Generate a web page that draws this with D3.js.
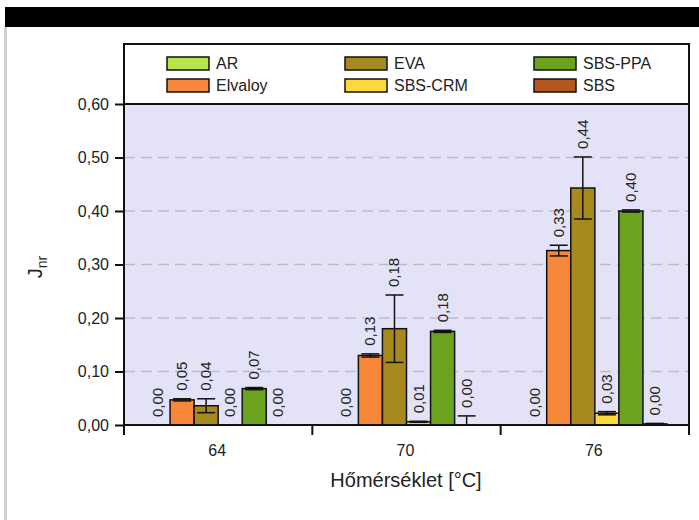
<!DOCTYPE html>
<html>
<head>
<meta charset="utf-8">
<script src="https://cdn.jsdelivr.net/npm/d3@7"></script>
<style>
  body { margin: 0; background: #fff; }
  svg { display: block; font-family: "Liberation Sans", Arial, sans-serif; }
</style>
</head>
<body>
<script>
// temperatures on the x axis
var temps = ["64", "70", "76"]
// binders, in the order the bars are drawn
var binders = ["AR", "Elvaloy", "EVA", "SBS-CRM", "SBS-PPA", "SBS"]
var colors = ["#b9e44a", "#f7883a", "#a8891d", "#fcd83c", "#6ba31f", "#b4561d"]

// Jnr values per binder, one value per temperature
var valAR      = [0.000, 0.000, 0.000]
var valElvaloy = [0.047, 0.130, 0.326]
var valEVA     = [0.036, 0.180, 0.443]
var valCRM     = [0.000, 0.006, 0.022]
var valPPA     = [0.068, 0.175, 0.400]
var valSBS     = [0.000, 0.000, 0.002]

// standard deviations (error bars)
var errAR      = [0, 0, 0]
var errElvaloy = [0.002, 0.003, 0.010]
var errEVA     = [0.013, 0.063, 0.058]
var errCRM     = [0, 0.001, 0.003]
var errPPA     = [0.002, 0.002, 0.002]
var errSBS     = [0, 0.017, 0.001]

// printed labels above the bars
var lblAR      = ["0,00", "0,00", "0,00"]
var lblElvaloy = ["0,05", "0,13", "0,33"]
var lblEVA     = ["0,04", "0,18", "0,44"]
var lblCRM     = ["0,00", "0,01", "0,03"]
var lblPPA     = ["0,07", "0,18", "0,40"]
var lblSBS     = ["0,00", "0,00", "0,00"]

var yTicks = [0, 0.1, 0.2, 0.3, 0.4, 0.5, 0.6]

var values = [valAR, valElvaloy, valEVA, valCRM, valPPA, valSBS]
var errors = [errAR, errElvaloy, errEVA, errCRM, errPPA, errSBS]
var labels = [lblAR, lblElvaloy, lblEVA, lblCRM, lblPPA, lblSBS]

var w = 699
var h = 520
var plot = {left: 124, right: 689, top: 104, bottom: 425, legendTop: 44}

// flatten into one row per bar
var bars = []
temps.forEach(function(t, ti) {
  binders.forEach(function(b, bi) {
    bars.push({temp: t, binder: b, color: colors[bi],
               value: values[bi][ti], err: errors[bi][ti], label: labels[bi][ti]})
  })
})

var svg = d3.select("body").append("svg")
            .attr("width", w)
            .attr("height", h)

// page decoration: black band and grey left edge
svg.append("rect").attr("x", 5).attr("y", 7).attr("width", w - 5).attr("height", 20).attr("fill", "#000")
svg.append("rect").attr("x", 4).attr("y", 27).attr("width", 3).attr("height", h - 27).attr("fill", "#cfcfcf")

var xScale = d3.scaleBand()
               .domain(temps)
               .range([plot.left, plot.right])
var xInner = d3.scaleBand()
               .domain(binders)
               .range([22, xScale.bandwidth() - 22])
var yScale = d3.scaleLinear()
               .domain([0, 0.6])
               .range([plot.bottom, plot.top])

// plot background
svg.append("rect")
   .attr("x", plot.left).attr("y", plot.top)
   .attr("width", plot.right - plot.left).attr("height", plot.bottom - plot.top)
   .attr("fill", "#e4e2f6")

// dashed grid
svg.selectAll(".grid")
   .data(yTicks.slice(1, -1))
   .enter().append("line")
   .attr("x1", plot.left).attr("x2", plot.right)
   .attr("y1", function(d) { return yScale(d) })
   .attr("y2", function(d) { return yScale(d) })
   .attr("stroke", "#bdbdc6")
   .attr("stroke-width", 1.5)
   .attr("stroke-dasharray", "11,6")

var clip = svg.append("clipPath").attr("id", "pclip")
clip.append("rect").attr("x", plot.left).attr("y", 0)
    .attr("width", plot.right - plot.left).attr("height", plot.bottom)

var g = svg.append("g").attr("clip-path", "url(#pclip)")

// bars
g.selectAll(".bar")
 .data(bars)
 .enter().append("rect")
 .attr("x", function(d) { return xScale(d.temp) + xInner(d.binder) })
 .attr("y", function(d) { return yScale(d.value) })
 .attr("width", xInner.bandwidth())
 .attr("height", function(d) { return plot.bottom - yScale(d.value) })
 .attr("fill", function(d) { return d.color })
 .attr("stroke", "#111")
 .attr("stroke-width", 1.5)

// error bars
var withErr = bars.filter(function(d) { return d.err > 0 })
var cx = function(d) { return xScale(d.temp) + xInner(d.binder) + xInner.bandwidth() / 2 }
g.selectAll(".errv")
 .data(withErr)
 .enter().append("line")
 .attr("x1", cx).attr("x2", cx)
 .attr("y1", function(d) { return yScale(d.value + d.err) })
 .attr("y2", function(d) { return yScale(d.value - d.err) })
 .attr("stroke", "#111").attr("stroke-width", 1.5)
;[1, -1].forEach(function(s) {
  g.selectAll(".cap" + s)
   .data(withErr)
   .enter().append("line")
   .attr("x1", function(d) { return cx(d) - 9 })
   .attr("x2", function(d) { return cx(d) + 9 })
   .attr("y1", function(d) { return yScale(d.value + s * d.err) })
   .attr("y2", function(d) { return yScale(d.value + s * d.err) })
   .attr("stroke", "#111").attr("stroke-width", 1.5)
})

// value labels, rotated
svg.selectAll(".vlabel")
   .data(bars)
   .enter().append("text")
   .attr("transform", function(d) {
      return "translate(" + (cx(d) + 5) + "," + (yScale(d.value + d.err) - 8) + ") rotate(-90)"
   })
   .attr("font-size", 15)
   .attr("fill", "#222")
   .text(function(d) { return d.label })

// frame: legend box + plot
svg.append("rect")
   .attr("x", plot.left).attr("y", plot.legendTop)
   .attr("width", plot.right - plot.left).attr("height", plot.bottom - plot.legendTop)
   .attr("fill", "none").attr("stroke", "#111").attr("stroke-width", 2)
svg.append("line")
   .attr("x1", plot.left).attr("x2", plot.right)
   .attr("y1", plot.top).attr("y2", plot.top)
   .attr("stroke", "#111").attr("stroke-width", 2)

// y axis
var yAxis = svg.append("g")
   .attr("transform", "translate(" + plot.left + ",0)")
   .call(d3.axisLeft(yScale).tickValues(yTicks).tickSize(9).tickPadding(6)
           .tickFormat(function(d) { return d3.format(".2f")(d).replace(".", ",") }))
yAxis.select(".domain").remove()
yAxis.selectAll("line").attr("stroke", "#111").attr("stroke-width", 2)
yAxis.selectAll("text").attr("font-size", 16).attr("fill", "#222").attr("font-family", "Liberation Sans, Arial, sans-serif")

// x axis with ticks on band edges
svg.selectAll(".xtick")
   .data(temps.concat(["end"]))
   .enter().append("line")
   .attr("x1", function(d) { return d === "end" ? plot.right : xScale(d) })
   .attr("x2", function(d) { return d === "end" ? plot.right : xScale(d) })
   .attr("y1", plot.bottom).attr("y2", plot.bottom + 10)
   .attr("stroke", "#111").attr("stroke-width", 2)
svg.selectAll(".xlabel")
   .data(temps)
   .enter().append("text")
   .attr("x", function(d) { return xScale(d) + xScale.bandwidth() / 2 - 1 })
   .attr("y", 456)
   .attr("text-anchor", "middle")
   .attr("font-size", 16)
   .attr("fill", "#222")
   .text(function(d) { return d })

// axis titles
svg.append("text")
   .attr("x", 406).attr("y", 487)
   .attr("text-anchor", "middle")
   .attr("font-size", 20)
   .attr("fill", "#222")
   .text("Hőmérséklet [°C]")

var jl = svg.append("text")
   .attr("transform", "translate(42,267) rotate(-90)")
   .attr("text-anchor", "middle")
   .attr("font-size", 20)
   .attr("fill", "#222")
jl.append("tspan").text("J")
jl.append("tspan").attr("font-size", 14).attr("dy", 5).text("nr")

// legend, 3 columns x 2 rows
var legX = [167, 345, 534]
var legY = [57, 79]
var leg = svg.selectAll(".leg")
   .data(binders)
   .enter().append("g")
   .attr("transform", function(d, i) {
      return "translate(" + legX[Math.floor(i / 2)] + "," + legY[i % 2] + ")"
   })
leg.append("rect")
   .attr("width", 42).attr("height", 13)
   .attr("fill", function(d, i) { return colors[i] })
   .attr("stroke", "#111").attr("stroke-width", 1.5)
leg.append("text")
   .attr("x", 49).attr("y", 12)
   .attr("font-size", 16)
   .attr("fill", "#222")
   .text(function(d) { return d })
</script>
</body>
</html>
